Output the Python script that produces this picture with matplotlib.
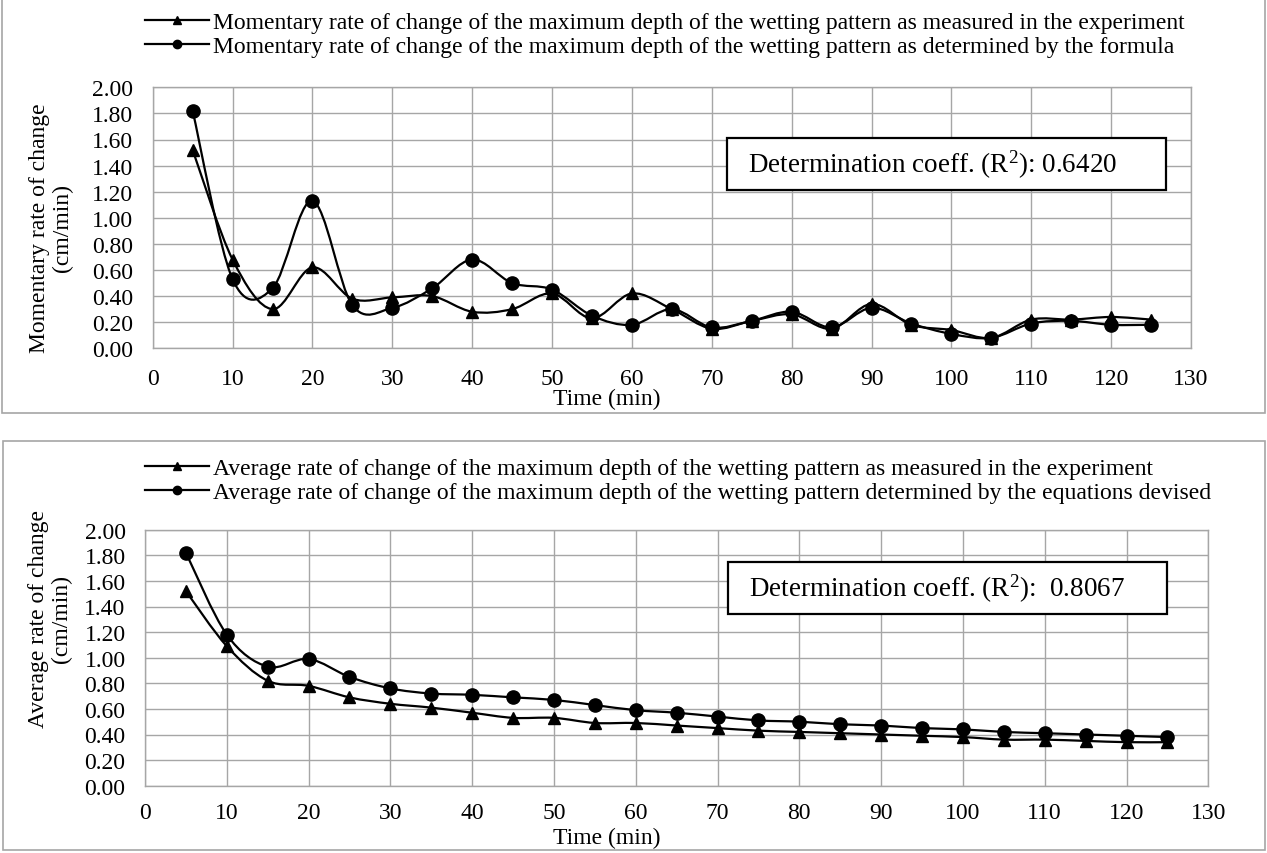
import matplotlib
matplotlib.use("Agg")
import matplotlib.pyplot as plt
from matplotlib.path import Path
from matplotlib.patches import PathPatch, Rectangle
from matplotlib.lines import Line2D

# ── Data ──
time_min = [5, 10, 15, 20, 25, 30, 35, 40, 45, 50, 55, 60, 65,
            70, 75, 80, 85, 90, 95, 100, 105, 110, 115, 120, 125]

mom_measured = [1.52, 0.68, 0.30, 0.62, 0.38, 0.39, 0.40, 0.28, 0.30, 0.42, 0.23, 0.42, 0.30,
                0.15, 0.21, 0.26, 0.15, 0.34, 0.18, 0.14, 0.08, 0.22, 0.22, 0.24, 0.22]
mom_formula = [1.82, 0.53, 0.46, 1.13, 0.33, 0.31, 0.46, 0.68, 0.50, 0.45, 0.25, 0.18, 0.30,
               0.16, 0.21, 0.28, 0.16, 0.31, 0.19, 0.11, 0.08, 0.19, 0.21, 0.18, 0.18]

avg_measured = [1.52, 1.09, 0.82, 0.78, 0.69, 0.64, 0.61, 0.57, 0.53, 0.53, 0.49, 0.49, 0.47,
                0.45, 0.43, 0.42, 0.41, 0.40, 0.39, 0.38, 0.36, 0.36, 0.35, 0.34, 0.34]
avg_formula = [1.82, 1.18, 0.93, 0.99, 0.85, 0.76, 0.72, 0.71, 0.69, 0.67, 0.63, 0.59, 0.57,
               0.54, 0.51, 0.50, 0.48, 0.47, 0.45, 0.44, 0.42, 0.41, 0.40, 0.39, 0.38]

top_labels = [
    "Momentary rate of change of the maximum depth of the wetting pattern as measured in the experiment",
    "Momentary rate of change of the maximum depth of the wetting pattern as determined by the formula",
]
bottom_labels = [
    "Average rate of change of the maximum depth of the wetting pattern as measured in the experiment",
    "Average rate of change of the maximum depth of the wetting pattern determined by the equations devised",
]
top_r2 = r"Determination coeff. (R$^{2}$): 0.6420"
bottom_r2 = r"Determination coeff. (R$^{2}$):  0.8067"

GRID = "#a6a6a6"
FONT = "Liberation Serif"
FS = 17

plt.rcParams.update({
    "font.family": FONT,
    "font.size": FS,
    "mathtext.fontset": "custom",
    "mathtext.rm": FONT,
    "mathtext.it": FONT + ":italic",
    "mathtext.bf": FONT + ":bold",
    "mathtext.default": "rm",
})

W, H = 1267, 854


def fx(px):
    return px / W


def fy(py):
    return 1 - py / H


def smooth_path(x, y):
    """Excel-style smoothed line (Catmull-Rom as cubic Bezier)."""
    n = len(x)
    verts = [(x[0], y[0])]
    codes = [Path.MOVETO]
    for i in range(n - 1):
        a = i - 1 if i > 0 else i
        d = i + 2 if i + 2 < n else i + 1
        c1 = (x[i] + (x[i + 1] - x[a]) / 6, y[i] + (y[i + 1] - y[a]) / 6)
        c2 = (x[i + 1] - (x[d] - x[i]) / 6, y[i + 1] - (y[d] - y[i]) / 6)
        verts += [c1, c2, (x[i + 1], y[i + 1])]
        codes += [Path.CURVE4] * 3
    return Path(verts, codes)


def draw_panel(ax, measured, formula, r2_text, box, xpad):
    for series, mk, ms in [(measured, "^", 9), (formula, "o", 9.5)]:
        ax.add_patch(PathPatch(smooth_path(time_min, series), fill=False,
                               edgecolor="black", linewidth=1.6, zorder=3))
        ax.plot(time_min, series, linestyle="none", marker=mk, markersize=ms,
                color="black", zorder=4)
    ax.set_xlim(0, 130)
    ax.set_ylim(0, 2.0)
    ax.set_xticks(range(0, 131, 10))
    ax.set_yticks([i * 0.2 for i in range(11)])
    ax.set_yticklabels([f"{i * 0.2:.2f}" for i in range(11)])
    ax.grid(True, color=GRID, linewidth=1.0)
    ax.set_axisbelow(True)
    for s in ax.spines.values():
        s.set_color(GRID)
        s.set_linewidth(1.0)
    ax.tick_params(axis="y", length=0, labelsize=FS, pad=14)
    ax.tick_params(axis="x", length=0, labelsize=FS, pad=xpad)
    x0, y0, x1, y1 = box
    ax.add_patch(Rectangle((x0, y0), x1 - x0, y1 - y0, transform=ax.transAxes,
                           facecolor="white", edgecolor="black", linewidth=1.6, zorder=5))
    ax.text(x0 + 0.02, (y0 + y1) / 2, r2_text, transform=ax.transAxes,
            fontsize=19.5, ha="left", va="center", zorder=6)


fig = plt.figure(figsize=(W / 100, H / 100), dpi=100)

# panel frames
fig.patches.append(Rectangle((fx(2), fy(414)), fx(1263), 414 / H, transform=fig.transFigure,
                             fill=False, edgecolor=GRID, linewidth=1.2))
fig.patches.append(Rectangle((fx(3), fy(851)), fx(1262), (851 - 442) / H, transform=fig.transFigure,
                             fill=False, edgecolor=GRID, linewidth=1.2))

ax1 = fig.add_axes([fx(152.7), fy(349.3), fx(1191 - 152.7), (349.3 - 88.3) / H])
draw_panel(ax1, mom_measured, mom_formula, top_r2, (0.553, 0.607, 0.976, 0.806), 14)

ax2 = fig.add_axes([fx(145), fy(786.7), fx(1208.3 - 145), (786.7 - 530.7) / H])
draw_panel(ax2, avg_measured, avg_formula, bottom_r2, (0.548, 0.671, 0.961, 0.874), 12)

# axis labels
fig.text(fx(51), fy(228), "Momentary rate of change\n(cm/min)", rotation=90,
         ha="center", va="center", multialignment="center", fontsize=FS, linespacing=1.1)
fig.text(fx(50), fy(619), "Average rate of change\n(cm/min)", rotation=90,
         ha="center", va="center", multialignment="center", fontsize=FS, linespacing=1.1)
fig.text(fx(607), fy(399), "Time (min)", ha="center", va="center", fontsize=FS)
fig.text(fx(607), fy(838), "Time (min)", ha="center", va="center", fontsize=FS)


# legends
def legend_handles():
    return [Line2D([], [], color="black", linewidth=1.6, marker="^", markersize=6),
            Line2D([], [], color="black", linewidth=1.6, marker="o", markersize=6)]


for labels, top in [(top_labels, -4), (bottom_labels, 442)]:
    fig.legend(legend_handles(), labels, loc="upper left", bbox_to_anchor=(fx(128), fy(top)),
               frameon=False, fontsize=FS, handlelength=2.75, handletextpad=0.15,
               labelspacing=0.1, borderpad=0.2)

fig.savefig("out.png", dpi=100)
